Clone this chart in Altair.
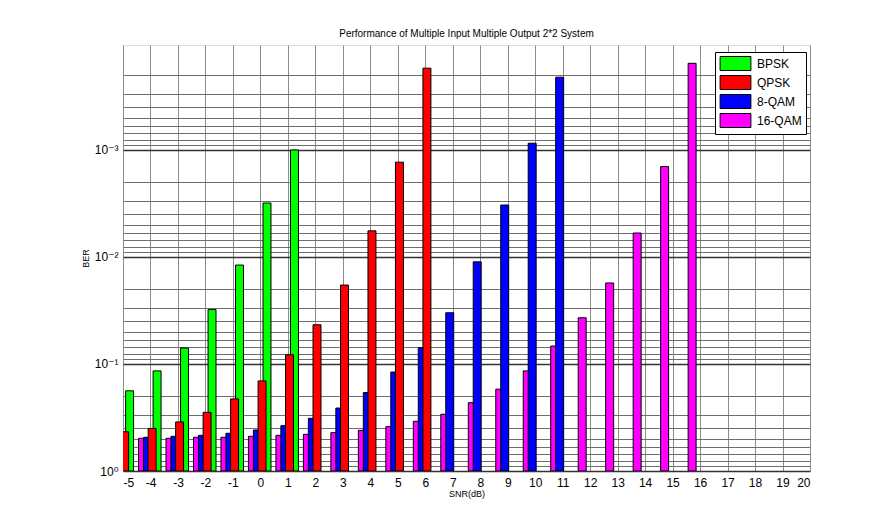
import altair as alt
import pandas as pd

# ---- data ----
snr_values = list(range(-5, 21))
series_names = ["BPSK", "QPSK", "8-QAM", "16-QAM"]
series_colors = ["#00ff00", "#ff0000", "#0000ff", "#ff00ff"]

bpsk_snr = [-5, -4, -3, -2, -1, 0, 1]
bpsk_ber = [0.178, 0.116, 0.071, 0.031, 0.0119, 0.00313, 0.00100]

qpsk_snr = [-5, -4, -3, -2, -1, 0, 1, 2, 3, 4, 5, 6]
qpsk_ber = [0.43, 0.40, 0.348, 0.283, 0.212, 0.144, 0.082, 0.043, 0.0183,
            0.0057, 0.0013, 0.000172]

qam8_snr = [-5, -4, -3, -2, -1, 0, 1, 2, 3, 4, 5, 6, 7, 8, 9, 10, 11]
qam8_ber = [0.49, 0.484, 0.474, 0.464, 0.444, 0.414, 0.377, 0.322, 0.258,
            0.185, 0.119, 0.0704, 0.0332, 0.0111, 0.00327, 0.000865, 0.000209]

qam16_snr = [-5, -4, -3, -2, -1, 0, 1, 2, 3, 4, 5, 6, 7, 8, 9, 10, 11, 12, 13,
             14, 15, 16]
qam16_ber = [0.50, 0.495, 0.495, 0.484, 0.484, 0.474, 0.464, 0.454, 0.438,
             0.417, 0.385, 0.343, 0.295, 0.230, 0.172, 0.116, 0.068, 0.037,
             0.0175, 0.00597, 0.00143, 0.000155]

# bar offsets within a group (MATLAB-like overlapping layout) and bar width
offsets = {"BPSK": 0.24, "QPSK": 0.06, "8-QAM": -0.11, "16-QAM": -0.29}
bar_width = 0.29

# y tick / grid values
y_grid = []
for e in range(-4, 0):
    for k in range(1, 10):
        v = round(k * 10.0 ** e, 10)
        if v > 1.05e-4:
            y_grid.append(v)
y_grid.append(1.0)

rows = []
# drawing order: green, magenta, blue, red (red on top)
for name, xs, ys in [("BPSK", bpsk_snr, bpsk_ber),
                     ("16-QAM", qam16_snr, qam16_ber),
                     ("8-QAM", qam8_snr, qam8_ber),
                     ("QPSK", qpsk_snr, qpsk_ber)]:
    for s, b in zip(xs, ys):
        c = s + offsets[name]
        rows.append({"series": name, "snr": s, "ber": b,
                     "x0": c - bar_width / 2, "x1": c + bar_width / 2})
df = pd.DataFrame(rows)

FONT = "Liberation Sans, Arial, DejaVu Sans"

label_expr = ("datum.value == 1 ? '10\u2070' : datum.value == 0.1 ? '10\u207b\u00b9' : "
              "datum.value == 0.01 ? '10\u207b\u00b2' : datum.value == 0.001 ? '10\u207b\u00b3' : ''")
decade_test = "abs(log(datum.value)/LN10 - round(log(datum.value)/LN10)) < 0.001"

bars = alt.Chart(df).mark_bar(clip=True, stroke="black", strokeWidth=1).encode(
    x=alt.X("x0:Q",
            scale=alt.Scale(domain=[-5, 20], nice=False, zero=False),
            axis=alt.Axis(values=snr_values, labelExpr="'' + datum.value",
                          title="SNR(dB)",
                          grid=True, gridColor="#8c8c8c", gridWidth=1,
                          ticks=False, domain=False,
                          labelFont=FONT, labelFontSize=12, labelColor="black",
                          labelPadding=6, titleFont=FONT, titleFontSize=9,
                          titleFontWeight="normal", titleColor="black",
                          titlePadding=1)),
    x2="x1:Q",
    y=alt.Y("ber:Q",
            scale=alt.Scale(type="log", domain=[1.045e-4, 1], reverse=True, nice=False),
            axis=alt.Axis(values=y_grid, labelExpr=label_expr, title="BER",
                          grid=True,
                          gridColor={"condition": {"test": decade_test, "value": "#333333"},
                                     "value": "#6e6e6e"},
                          gridWidth={"condition": {"test": decade_test, "value": 1.7},
                                     "value": 1},
                          ticks=False, domain=False,
                          labelFont=FONT, labelFontSize=12, labelColor="black",
                          labelPadding=5, titleFont=FONT, titleFontSize=9,
                          titleFontWeight="normal", titleColor="black",
                          titlePadding=4)),
    y2=alt.datum(1),
    color=alt.Color("series:N",
                    scale=alt.Scale(domain=series_names, range=series_colors),
                    legend=alt.Legend(title=None, orient="none", legendX=592, legendY=7,
                                      fillColor="white", strokeColor="black",
                                      padding=4, rowPadding=0,
                                      symbolType="M-2.2,-1L2.2,-1L2.2,1L-2.2,1Z",
                                      symbolSize=196, symbolOffset=9,
                                      symbolStrokeColor="black",
                                      symbolStrokeWidth=1, symbolOpacity=1,
                                      labelFont=FONT, labelFontSize=12,
                                      labelColor="black", labelOffset=14)),
)

chart = bars.properties(
    width=687, height=426,
    title=alt.TitleParams("Performance of Multiple Input Multiple Output 2*2  System",
                          font=FONT, fontSize=10, fontWeight="normal", color="black",
                          anchor="middle", offset=6),
    autosize=alt.AutoSizeParams(type="none"),
    padding={"left": 115, "top": 37, "right": 55, "bottom": 45},
).configure_view(stroke="black", strokeWidth=1.2).configure(background="white")

chart.save("out.html", embed_options={"renderer": "svg", "actions": False})
